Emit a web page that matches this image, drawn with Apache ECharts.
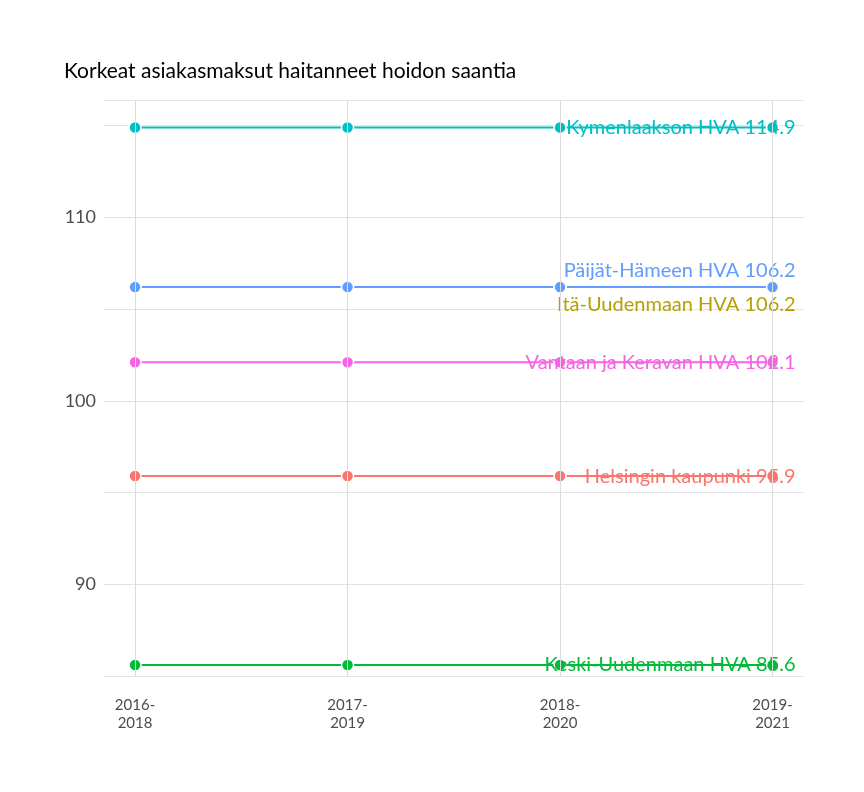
<!DOCTYPE html>
<html><head><meta charset="utf-8">
<script src="https://cdn.jsdelivr.net/npm/echarts@6/dist/echarts.min.js"></script>
<style>html,body{margin:0;background:#fff}#c{width:864px;height:792px}</style>
</head><body><div id="c"></div>
<script>
const categories = ["2016-\n2018","2017-\n2019","2018-\n2020","2019-\n2021"];
const seriesNames = ["Helsingin kaupunki","Itä-Uudenmaan HVA","Keski-Uudenmaan HVA","Kymenlaakson HVA","Päijät-Hämeen HVA","Vantaan ja Keravan HVA"];
const seriesValues = [
  [95.9,95.9,95.9,95.9],
  [106.2,106.2,106.2,106.2],
  [85.6,85.6,85.6,85.6],
  [114.9,114.9,114.9,114.9],
  [106.2,106.2,106.2,106.2],
  [102.1,102.1,102.1,102.1]
];
const colors = ["#F8766D","#B79F00","#00BA38","#00BFC4","#619CFF","#F564E3"];
const labelDy = [0,17,0,0,-17,0];
const chart = echarts.init(document.getElementById('c'));
chart.setOption({
  animation:false,
  title:{text:"Korkeat asiakasmaksut haitanneet hoidon saantia",left:59,top:56,textStyle:{fontFamily:'Lato',fontSize:21,fontWeight:'normal',color:'#000'}},
  grid:{left:104,right:60,top:100,bottom:116},
  xAxis:{type:'value',min:-0.146,max:3.148,
    axisLine:{show:false},axisTick:{show:false},
    splitLine:{show:false},
    axisLabel:{customValues:[0,1,2,3],fontFamily:'Lato',fontSize:15,color:'#4d4d4d',lineHeight:18,margin:20,
      formatter:v=>{const i=Math.round(v);return categories[i]||'';}}},
  yAxis:{type:'value',min:85,max:116.4,interval:5,
    axisLine:{show:false},axisTick:{show:false},
    splitLine:{lineStyle:{color:'#e3e3e3',width:1}},
    axisLabel:{fontFamily:'Lato',fontSize:18,color:'#4d4d4d',margin:8,
      formatter:v=>(v%10===0?String(v):'')}},
  series:[
    {type:'line',silent:true,data:[],markLine:{symbol:'none',silent:true,label:{show:false},
      lineStyle:{color:'#dcdcdc',type:'solid',width:1},
      data:[0,1,2,3].map(x=>({xAxis:x}))}},
    ...seriesNames.map((n,s)=>({
      type:'line',name:n,color:colors[s],
      data:seriesValues[s].map((v,i)=>[i,v]),
      symbol:'circle',symbolSize:12,
      lineStyle:{width:2,color:colors[s]},
      itemStyle:{color:colors[s],borderColor:'#fff',borderWidth:1.5},
      label:{show:false},
      endLabel:{show:true,formatter:n+' '+seriesValues[s][3].toFixed(1),
        fontFamily:'Lato',fontSize:20,color:colors[s],
        align:'right',offset:[46,labelDy[s]],distance:-23}
    }))
  ]
});
</script></body></html>
